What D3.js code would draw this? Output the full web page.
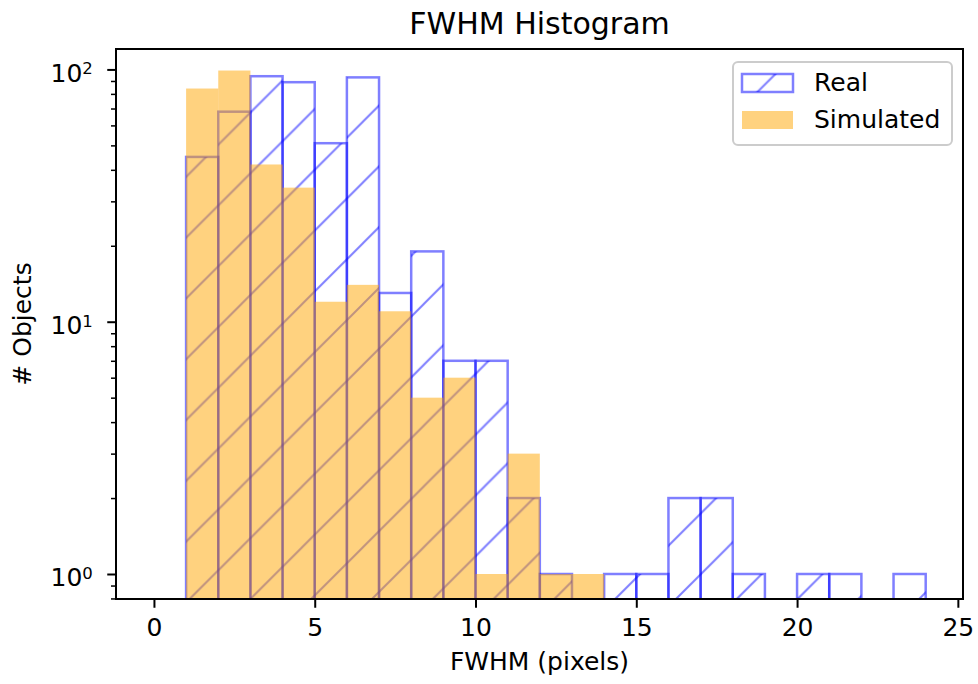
<!DOCTYPE html>
<html>
<head>
<meta charset="utf-8">
<script src="https://cdn.jsdelivr.net/npm/d3@7"></script>
<style>
    body { margin: 0; background: #fff; }
    text { font-family: "DejaVu Sans", sans-serif; fill: #000; }
</style>
</head>
<body>
<div id="chart"></div>
<script>
// histogram bins (left edges, width 1 pixel)
const binLefts = [0, 1, 2, 3, 4, 5, 6, 7, 8, 9, 10, 11, 12, 13, 14, 15, 16, 17, 18, 19, 20, 21, 22, 23];
const binWidth = 1;
const realCounts = [0, 45, 68, 94, 89, 51, 93, 13, 19, 7, 7, 2, 1, 0, 1, 1, 2, 2, 1, 0, 1, 1, 0, 1];
const simCounts  = [0, 84, 99, 42, 34, 12, 14, 11, 5, 6, 1, 3, 1, 1, 0, 0, 0, 0, 0, 0, 0, 0, 0, 0];
const seriesNames = ["Real", "Simulated"];
const xTicks = [0, 5, 10, 15, 20, 25];
const yTicks = [1, 10, 100];
const yTickExp = ["0", "1", "2"];

const width = 978, height = 684;
const plotLeft = 116, plotRight = 963, plotTop = 49, plotBottom = 599;

let svg = d3.select("#chart").append("svg")
    .attr("width", width)
    .attr("height", height);

let x = d3.scaleLinear().domain([-1.18, 25.16]).range([plotLeft, plotRight]);
let y = d3.scaleLog().domain([0.796, 120.5]).range([plotBottom, plotTop]);

// hatch "/" pattern, anchored to the page like matplotlib does
const T = 60.8;
let defs = svg.append("defs");
let hatch = defs.append("pattern")
    .attr("id", "hatch")
    .attr("patternUnits", "userSpaceOnUse")
    .attr("x", -1.8)
    .attr("y", 0)
    .attr("width", T)
    .attr("height", T);
[[0, T, T, 0], [-2, 2, 2, -2], [T - 2, T + 2, T + 2, T - 2]].forEach(function (l) {
    hatch.append("line")
        .attr("x1", l[0]).attr("y1", l[1])
        .attr("x2", l[2]).attr("y2", l[3])
        .attr("stroke", "blue")
        .attr("stroke-width", 2);
});

defs.append("clipPath").attr("id", "plotClip")
    .append("rect")
    .attr("x", plotLeft).attr("y", plotTop)
    .attr("width", plotRight - plotLeft).attr("height", plotBottom - plotTop);

let plot = svg.append("g").attr("clip-path", "url(#plotClip)");

let realData = binLefts.map((b, i) => ({x0: b, c: realCounts[i]})).filter(d => d.c > 0);
let simData = binLefts.map((b, i) => ({x0: b, c: simCounts[i]})).filter(d => d.c > 0);

// Real: hatched outline, alpha 0.5
plot.selectAll(".real")
    .data(realData)
    .enter()
    .append("rect")
    .attr("class", "real")
    .attr("x", d => x(d.x0))
    .attr("width", d => x(d.x0 + binWidth) - x(d.x0))
    .attr("y", d => y(d.c))
    .attr("height", d => plotBottom + 10 - y(d.c))
    .attr("fill", "url(#hatch)")
    .attr("fill-opacity", 0.5)
    .attr("stroke", "blue")
    .attr("stroke-opacity", 0.5)
    .attr("stroke-width", 2.5);

// Simulated: orange, alpha 0.5, drawn on top
plot.selectAll(".sim")
    .data(simData)
    .enter()
    .append("rect")
    .attr("class", "sim")
    .attr("x", d => x(d.x0))
    .attr("width", d => x(d.x0 + binWidth) - x(d.x0))
    .attr("y", d => y(d.c))
    .attr("height", d => plotBottom + 10 - y(d.c))
    .attr("fill", "orange")
    .attr("fill-opacity", 0.5);

// x axis
let xAxis = svg.append("g")
    .attr("transform", "translate(0," + plotBottom + ")")
    .call(d3.axisBottom(x).tickValues(xTicks).tickSize(8.75).tickSizeOuter(0).tickPadding(10.5));
xAxis.select(".domain").remove();
xAxis.selectAll("line").attr("stroke", "#000").attr("stroke-width", 2);
xAxis.selectAll("text").attr("font-size", 25).attr("font-family", "DejaVu Sans");

// y axis minor ticks
let minor = y.ticks().filter(v => yTicks.indexOf(v) < 0 && v >= y.domain()[0]);
let yMinor = svg.append("g")
    .attr("transform", "translate(" + plotLeft + ",0)")
    .call(d3.axisLeft(y).tickValues(minor).tickSize(5).tickSizeOuter(0).tickFormat(""));
yMinor.select(".domain").remove();
yMinor.selectAll("line").attr("stroke", "#000").attr("stroke-width", 1.5);

// y axis major ticks with 10^n labels
let yAxis = svg.append("g")
    .attr("transform", "translate(" + plotLeft + ",0)")
    .call(d3.axisLeft(y).tickValues(yTicks).tickSize(8.75).tickSizeOuter(0).tickFormat(""));
yAxis.select(".domain").remove();
yAxis.selectAll("line").attr("stroke", "#000").attr("stroke-width", 2);
yAxis.selectAll(".tick text").remove();
yAxis.selectAll(".tick").each(function (d, i) {
    let t = d3.select(this).append("text")
        .attr("x", 50.5 - plotLeft)
        .attr("y", 11.7)
        .attr("font-size", 25)
        .attr("text-anchor", "start")
        .attr("fill", "#000");
    t.append("tspan").text("10");
    t.append("tspan").attr("font-size", 16.5).attr("dy", -7.4).text(yTickExp[i]);
});

// frame
svg.append("rect")
    .attr("x", plotLeft).attr("y", plotTop)
    .attr("width", plotRight - plotLeft).attr("height", plotBottom - plotTop)
    .attr("fill", "none")
    .attr("stroke", "#000")
    .attr("stroke-width", 2);

// labels
svg.append("text")
    .attr("x", (plotLeft + plotRight) / 2)
    .attr("y", 33.5)
    .attr("text-anchor", "middle")
    .attr("font-size", 30)
    .text("FWHM Histogram");

svg.append("text")
    .attr("x", (plotLeft + plotRight) / 2)
    .attr("y", 670)
    .attr("text-anchor", "middle")
    .attr("font-size", 25)
    .text("FWHM (pixels)");

svg.append("text")
    .attr("transform", "translate(31," + ((plotTop + plotBottom) / 2) + ") rotate(-90)")
    .attr("text-anchor", "middle")
    .attr("font-size", 25)
    .text("# Objects");

// legend
let legend = svg.append("g");
legend.append("rect")
    .attr("x", 733).attr("y", 62)
    .attr("width", 219).attr("height", 83)
    .attr("rx", 5)
    .attr("fill", "#fff").attr("fill-opacity", 0.8)
    .attr("stroke", "#ccc").attr("stroke-width", 2);

legend.append("rect")
    .attr("x", 742).attr("y", 74)
    .attr("width", 51).attr("height", 18)
    .attr("fill", "url(#hatch)")
    .attr("fill-opacity", 0.5)
    .attr("stroke", "blue")
    .attr("stroke-opacity", 0.5)
    .attr("stroke-width", 2.5);

legend.append("rect")
    .attr("x", 742).attr("y", 111)
    .attr("width", 51).attr("height", 18)
    .attr("fill", "orange")
    .attr("fill-opacity", 0.5);

legend.selectAll(".ltext")
    .data(seriesNames)
    .enter()
    .append("text")
    .attr("class", "ltext")
    .attr("x", 814)
    .attr("y", (d, i) => 91 + i * 37)
    .attr("font-size", 25)
    .text(d => d);
</script>
</body>
</html>
